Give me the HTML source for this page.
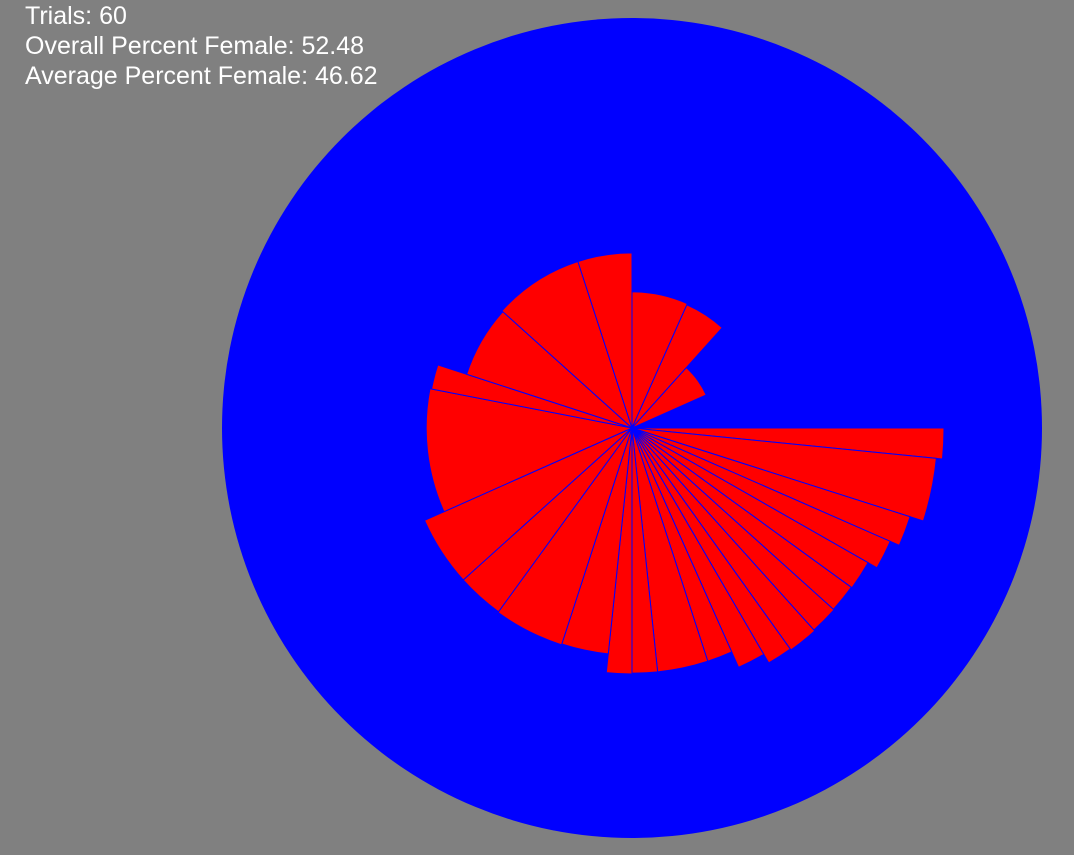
<!DOCTYPE html>
<html>
<head>
<meta charset="utf-8">
<style>
  html,body{margin:0;padding:0;background:#808080;width:1074px;height:855px;overflow:hidden;}
  #stats{position:absolute;left:25px;top:1px;color:#fff;font-family:"Liberation Sans",sans-serif;font-size:25px;line-height:30px;}
  svg{position:absolute;left:0;top:0;}
</style>
</head>
<body>
<div id="stats">
  <div>Trials: 60</div>
  <div>Overall Percent Female: 52.48</div>
  <div>Average Percent Female: 46.62</div>
</div>
<svg id="chart" width="1074" height="855">
  <circle cx="632" cy="428" r="410" fill="#0000ff"></circle>
  <g id="wedges"></g>
</svg>
<script>
// angular span of each wedge (degrees, clockwise from east)
const spans = [5.7,12,6,6,6.3,6,6,6.4,5.4,6.2,6,12,6,6,12,18,12,18,35,7,24,30,18,24,18,24,24];
// percent value per wedge (radius as percent of full circle)
const percents = [76.1,74.6,71.2,68.8,66.3,66.1,66.3,66.6,66.3,63.9,59.8,59.8,59.8,60.0,55.4,55.6,55.4,55.4,50.2,49.8,42.4,42.7,42.7,33.2,32.9,19.8,0];

const cx = 632, cy = 428, R = 410;
function rScale(p){ return p/100*R; }
function aScale(d){ return d*Math.PI/180; }
const g = document.getElementById('wedges');
let start = 0;
for (let i = 0; i < spans.length; i++) {
  const end = start + spans[i];
  const r = rScale(percents[i]);
  if (r > 0) {
    const a0 = aScale(start), a1 = aScale(end);
    const x0 = cx + r*Math.cos(a0), y0 = cy + r*Math.sin(a0);
    const x1 = cx + r*Math.cos(a1), y1 = cy + r*Math.sin(a1);
    const large = spans[i] > 180 ? 1 : 0;
    const p = document.createElementNS('http://www.w3.org/2000/svg','path');
    p.setAttribute('d', `M${cx},${cy} L${x0},${y0} A${r},${r} 0 ${large} 1 ${x1},${y1} Z`);
    p.setAttribute('fill', '#ff0000');
    p.setAttribute('stroke', '#0000ff');
    p.setAttribute('stroke-width', '1');
    
    
    g.appendChild(p);
  }
  start = end;
}
</script>
</body>
</html>
